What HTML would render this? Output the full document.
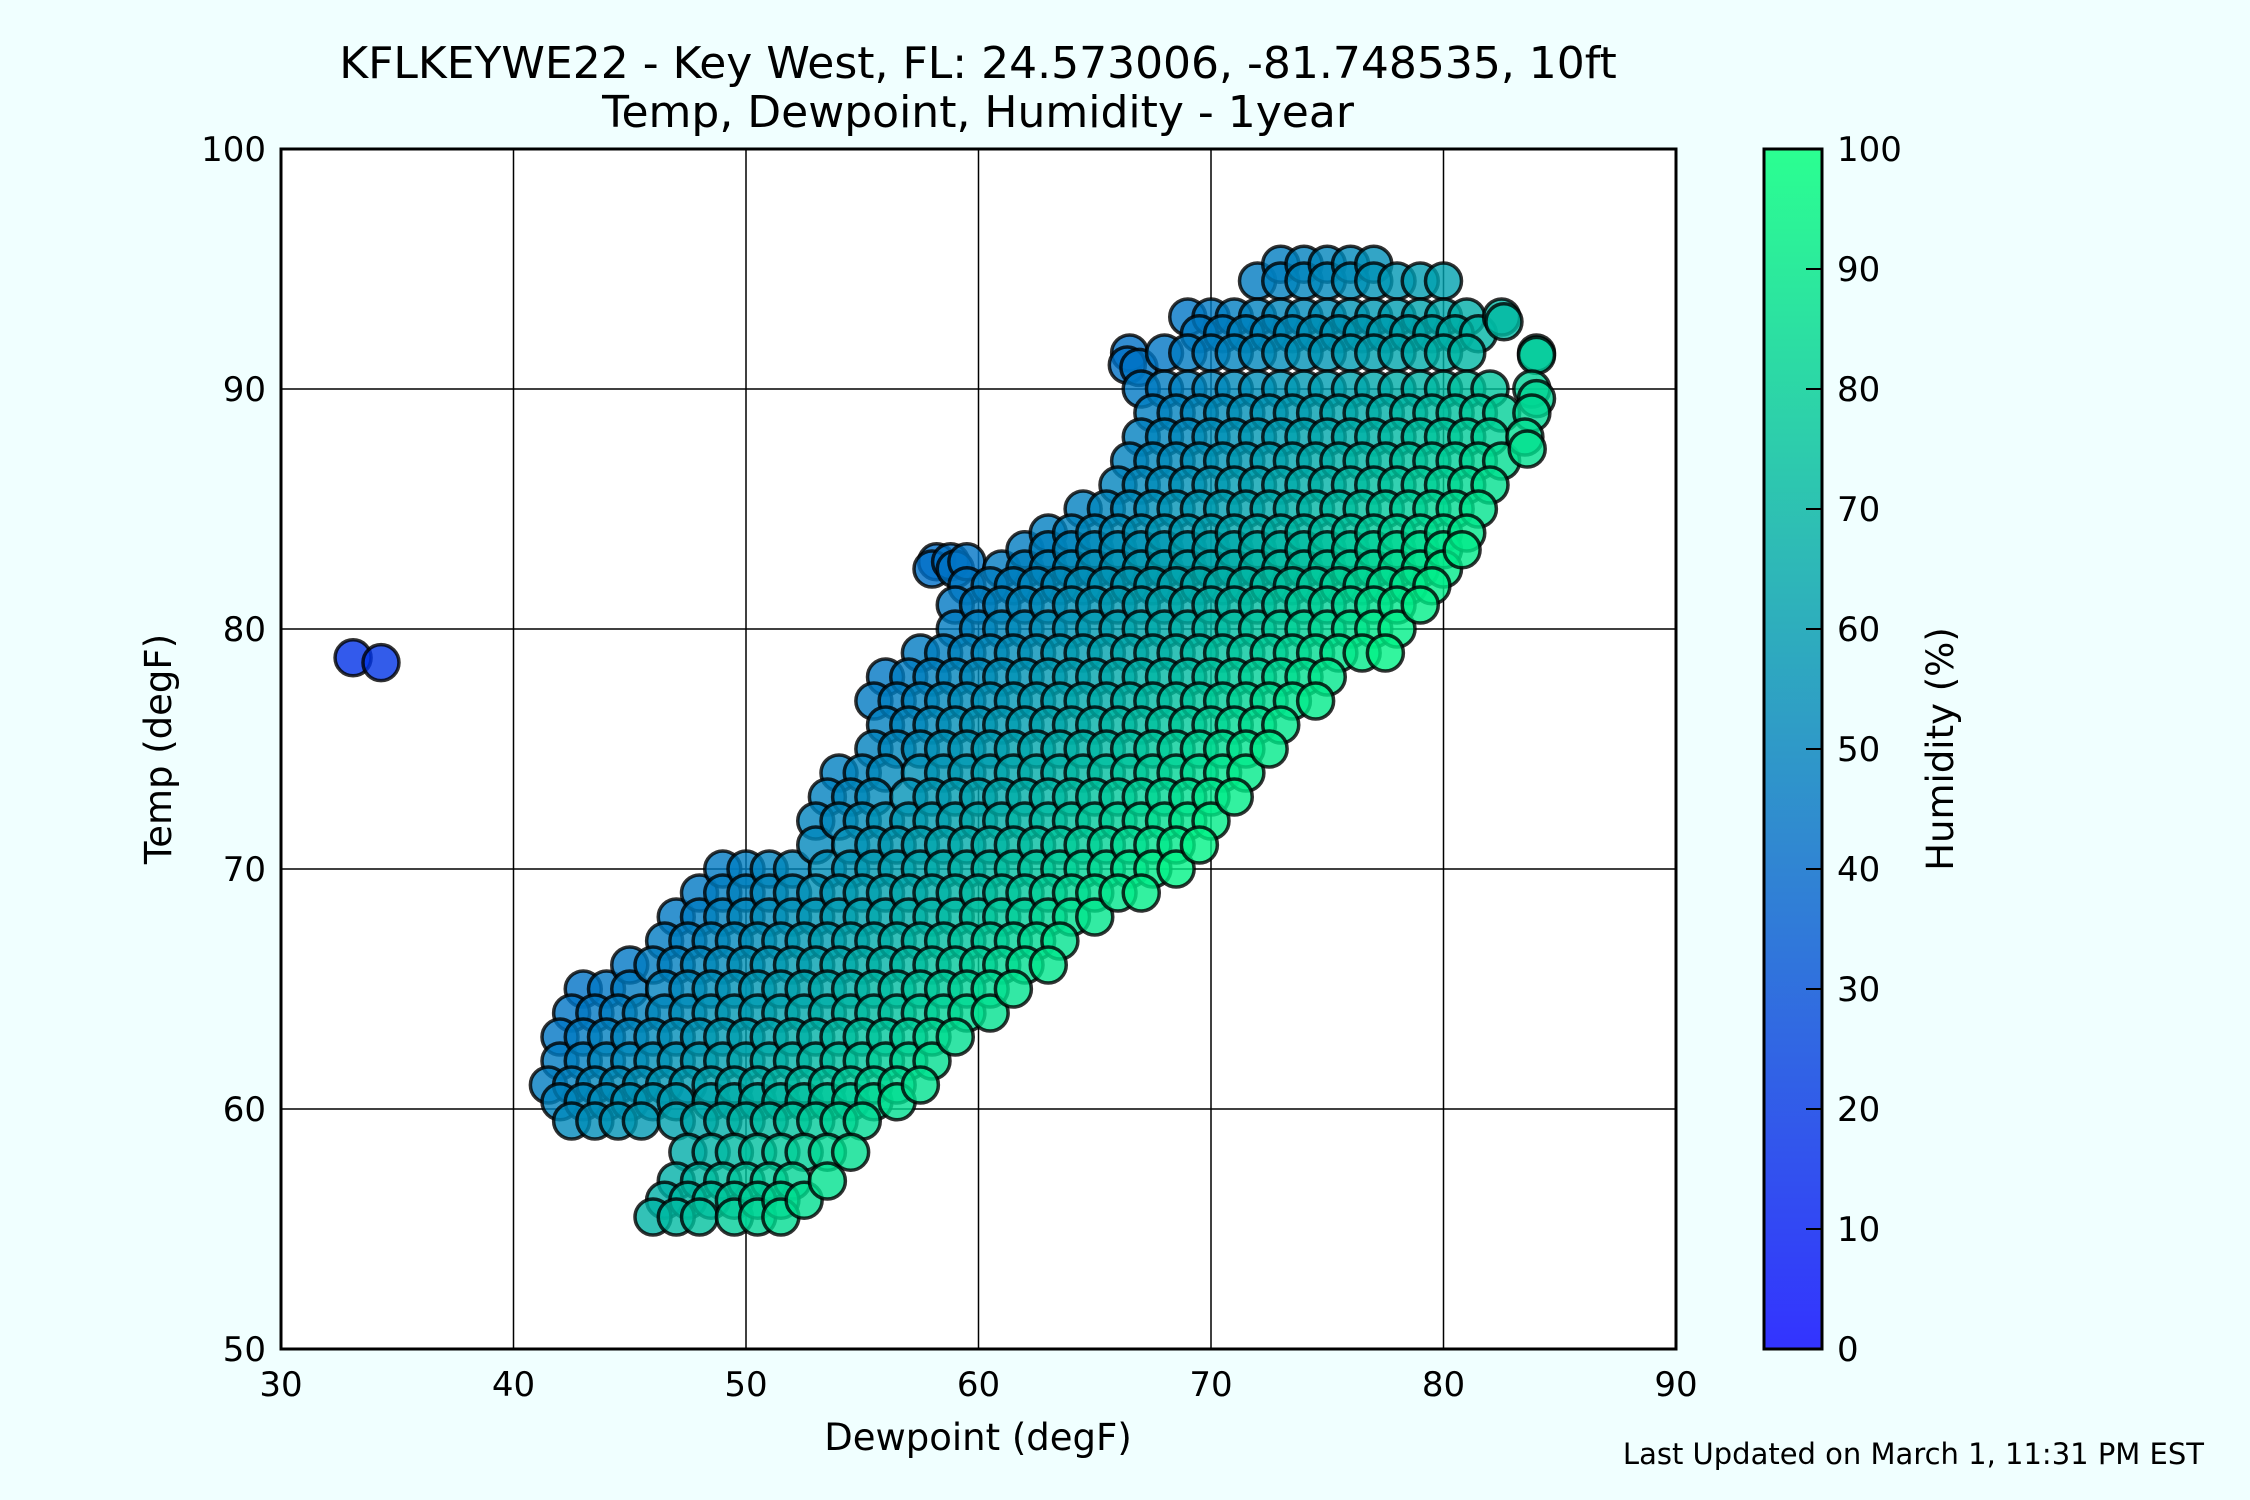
<!DOCTYPE html>
<html><head><meta charset="utf-8"><style>
html,body{margin:0;padding:0;background:#f0ffff;}
svg{display:block;font-family:"DejaVu Sans","Liberation Sans",sans-serif;}
</style></head><body>
<svg id="chart" width="2250" height="1500" viewBox="0 0 2250 1500" xmlns="http://www.w3.org/2000/svg">
<rect width="2250" height="1500" fill="#f0ffff"/>
<text x="978" y="78" font-size="44" text-anchor="middle">KFLKEYWE22 - Key West, FL: 24.573006, -81.748535, 10ft</text>
<text x="978" y="127" font-size="44" text-anchor="middle">Temp, Dewpoint, Humidity - 1year</text>
<rect x="281" y="149" width="1395" height="1200" fill="#ffffff"/>
<g id="grid"></g>
<g id="points"></g>
<rect x="281" y="149" width="1395" height="1200" fill="none" stroke="#000" stroke-width="3"/>
<g id="xticks"></g>
<g id="yticks"></g>
<text x="978" y="1450" font-size="37" text-anchor="middle">Dewpoint (degF)</text>
<text x="0" y="0" font-size="37" text-anchor="middle" transform="translate(171,749) rotate(-90)">Temp (degF)</text>
<defs><linearGradient id="cbg" x1="0" y1="1" x2="0" y2="0">
<stop offset="0" stop-color="rgb(51,51,255)"/><stop offset="1" stop-color="rgb(43,255,145)"/></linearGradient></defs>
<rect x="1764" y="149" width="58" height="1200" fill="url(#cbg)" stroke="#000" stroke-width="3"/>
<g id="cbticks"></g>
<text x="0" y="0" font-size="37" text-anchor="middle" transform="translate(1953,749) rotate(-90)">Humidity (%)</text>
<text x="2204" y="1464" font-size="29" text-anchor="end">Last Updated on March 1, 11:31 PM EST</text>
</svg>
<script>
const xTicks=[30,40,50,60,70,80,90];
const yTicks=[50,60,70,80,90,100];
const cbTicks=[0,10,20,30,40,50,60,70,80,90,100];
const rowTemps=[55.5,57,59.5,61,63,65,67,69,71,73,75,77,79,81,82.5,84,86,88,90,91.5,93,94.5];
const rowDews=[
[46,47,48,49.5,50.5,51.5],
[47,48,49,50,51,52,53.5],
[42.5,43.5,44.5,45.5,47,48,49,50,51,52,53,54,55],
[41.5,42.5,43.5,44.5,45.5,46.5,47.5,48.5,49.5,50.5,51.5,52.5,53.5,54.5,55.5,56.5,57.5],
[42,43,44,45,46,47,48,49,50,51,52,53,54,55,56,57,58,59],
[43,44,45,46.5,47.5,48.5,49.5,50.5,51.5,52.5,53.5,54.5,55.5,56.5,57.5,58.5,59.5,60.5,61.5],
[46.5,47.5,48.5,49.5,50.5,51.5,52.5,53.5,54.5,55.5,56.5,57.5,58.5,59.5,60.5,61.5,62.5,63.5],
[48,49,50,51,52,53,54,55,56,57,58,59,60,61,62,63,64,65,66,67],
[53,54.5,55.5,56.5,57.5,58.5,59.5,60.5,61.5,62.5,63.5,64.5,65.5,66.5,67.5,68.5,69.5],
[53.5,54.5,55.5,57,58,59,60,61,62,63,64,65,66,67,68,69,70,71],
[55.5,56.5,57.5,58.5,59.5,60.5,61.5,62.5,63.5,64.5,65.5,66.5,67.5,68.5,69.5,70.5,71.5,72.5],
[55.5,56.5,57.5,58.5,59.5,60.5,61.5,62.5,63.5,64.5,65.5,66.5,67.5,68.5,69.5,70.5,71.5,72.5,73.5,74.5],
[57.5,58.5,59.5,60.5,61.5,62.5,63.5,64.5,65.5,66.5,67.5,68.5,69.5,70.5,71.5,72.5,73.5,74.5,75.5,76.5,77.5],
[59,60,61,62,63,64,65,66,67,68,69,70,71,72,73,74,75,76,77,78,79],
[58,59,61,62,63,64,65,66,67,68,69,70,71,72,73,74,75,76,77,78,79,80],
[63,64,65,66,67,68,69,70,71,72,73,74,75,76,77,78,79,80,81],
[66,67,68,69,70,71,72,73,74,75,76,77,78,79,80,81,82],
[67,68,69,70,71,72,73,74,75,76,77,78,79,80,81,82,83.5],
[67,68,69,70,71,72,73,74,75,76,77,78,79,80,81,82,83.8],
[66.5,68,69,70,71,72,73,74,75,76,77,78,79,80,81,84],
[69,70,71,72,73,74,75,76,77,78,79,80,81,82.5],
[72,73,74,75,76,77,78,79,80]
];
const midTemps=[56.2,58.2,60.3,62,64,66,68,70,72,74,76,78,80,81.8,83.3,85,87,89,92.3,95.2];
const midDews=[
[46.5,47.5,48.5,49.5,50.5,51.5,52.5],
[47.5,48.5,49.5,50.5,51.5,52.5,53.5,54.5],
[42,43,44,45,46,47,48.5,49.5,50.5,51.5,52.5,53.5,54.5,55.5,56.5],
[42,43,44,45,46,47,48,49,50,51,52,53,54,55,56,57,58],
[42.5,43.5,44.5,45.5,46.5,47.5,48.5,49.5,50.5,51.5,52.5,53.5,54.5,55.5,56.5,57.5,58.5,59.5,60.5],
[45,46,47,48,49,50,51,52,53,54,55,56,57,58,59,60,61,62,63],
[47,48,49,50,51,52,53,54,55,56,57,58,59,60,61,62,63,64,65],
[49,50,51,52,53.5,54.5,55.5,56.5,57.5,58.5,59.5,60.5,61.5,62.5,63.5,64.5,65.5,66.5,67.5,68.5],
[53,54,55,56,57,58,59,60,61,62,63,64,65,66,67,68,69,70],
[54,55,56,57.5,58.5,59.5,60.5,61.5,62.5,63.5,64.5,65.5,66.5,67.5,68.5,69.5,70.5,71.5],
[56,57,58,59,60,61,62,63,64,65,66,67,68,69,70,71,72,73],
[56,57,58,59,60,61,62,63,64,65,66,67,68,69,70,71,72,73,74,75],
[59,60,61,62,63,64,65,66,67,68,69,70,71,72,73,74,75,76,77,78],
[59.5,60.5,61.5,62.5,63.5,64.5,65.5,66.5,67.5,68.5,69.5,70.5,71.5,72.5,73.5,74.5,75.5,76.5,77.5,78.5,79.5],
[62,63,64,65,66,67,68,69,70,71,72,73,74,75,76,77,78,79,80,80.8],
[64.5,65.5,66.5,67.5,68.5,69.5,70.5,71.5,72.5,73.5,74.5,75.5,76.5,77.5,78.5,79.5,80.5,81.5],
[66.5,67.5,68.5,69.5,70.5,71.5,72.5,73.5,74.5,75.5,76.5,77.5,78.5,79.5,80.5,81.5,82.5],
[67.5,68.5,69.5,70.5,71.5,72.5,73.5,74.5,75.5,76.5,77.5,78.5,79.5,80.5,81.5,82.5,83.8],
[69.5,70.5,71.5,72.5,73.5,74.5,75.5,76.5,77.5,78.5,79.5,80.5,81.5],
[73,74,75,76,77]
];
const extraDews=[33.1,34.3,82.6,84,84,83.6,58.2,58.8,59.5,66.4,66.9];
const extraTemps=[78.8,78.6,92.8,91.4,89.6,87.5,82.8,82.8,82.8,91,90.9];

const NS="http://www.w3.org/2000/svg";
const X0=281,X1=1676,Y0=1349,Y1=149;
function xs(v){return X0+(v-30)/60*(X1-X0);}
function ys(v){return Y0-(v-50)/50*(Y0-Y1);}
function cs(v){return 1349-v/100*1200;}
function mk(tag,attrs,parent){const e=document.createElementNS(NS,tag);for(const k in attrs)e.setAttribute(k,attrs[k]);parent.appendChild(e);return e;}
function rh(td,t){const c=f=>(f-32)*5/9;const a=c(td),b=c(t);return Math.min(100,100*Math.exp(17.625*a/(243.04+a))/Math.exp(17.625*b/(243.04+b)));}
function col(h){const g=h/100;const gg=Math.round(255*g),bb=Math.round(255*(1-0.5*g));return `rgb(0,${gg},${bb})`;}

const grid=document.getElementById('grid');
const xt=document.getElementById('xticks');
const yt=document.getElementById('yticks');
xTicks.forEach(v=>{
  if(v>30&&v<90){const l=mk('line',{x1:xs(v),x2:xs(v),y1:Y1,y2:Y0,stroke:'#000','stroke-width':1.5},grid);
  
  }
  const t=mk('text',{x:xs(v),y:1396,'font-size':34,'text-anchor':'middle'},xt);t.textContent=v;
  
  
});
yTicks.forEach(v=>{
  if(v>50&&v<100){const l=mk('line',{x1:X0,x2:X1,y1:ys(v),y2:ys(v),stroke:'#000','stroke-width':1.5},grid);
  
  }
  const t=mk('text',{x:266,y:ys(v)+12,'font-size':34,'text-anchor':'end'},yt);t.textContent=v;
  
  
});
const cb=document.getElementById('cbticks');
cbTicks.forEach(v=>{
  const l=mk('line',{x1:1806,x2:1822,y1:cs(v),y2:cs(v),stroke:'#000','stroke-width':2},cb);
  
  
  const t=mk('text',{x:1837,y:cs(v)+12,'font-size':34},cb);t.textContent=v;
  
  
});

const pts=[];
rowTemps.forEach((t,i)=>rowDews[i].forEach(d=>pts.push([d,t])));
midTemps.forEach((t,i)=>midDews[i].forEach(d=>pts.push([d,t])));
extraDews.forEach((d,i)=>pts.push([d,extraTemps[i]]));
pts.forEach(p=>p.push(rh(p[0],p[1])));
pts.sort((a,b)=>a[2]-b[2]);
const pg=document.getElementById('points');
pts.forEach(p=>{
  const c=mk('circle',{cx:xs(p[0]),cy:ys(p[1]),r:18,fill:col(p[2]),'fill-opacity':0.8,stroke:'#000','stroke-opacity':0.8,'stroke-width':3.5},pg);
  
  
});
</script>
</body></html>
